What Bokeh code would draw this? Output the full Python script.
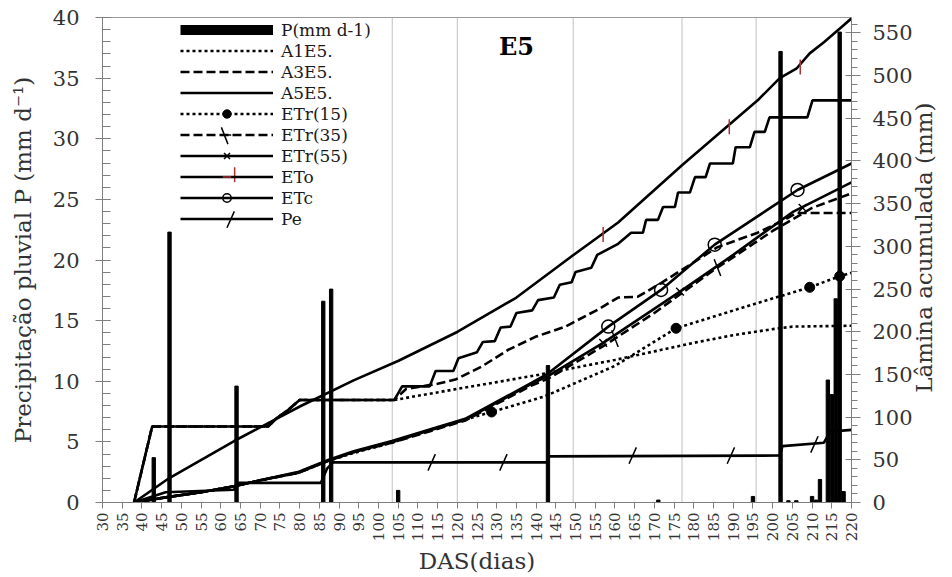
import math
from bokeh.plotting import figure
from bokeh.models import Range1d, LinearAxis, FixedTicker, Legend, LegendItem, Label
from bokeh.embed import file_html
from bokeh.resources import INLINE

# ---------------- data ----------------
DAS_TICKS = list(range(30, 225, 5))
GRID_DAS = [103.5, 120, 149.4, 177, 195.8]

# daily rainfall P (mm d-1), left axis
P_DAS = [43, 47, 64, 86, 88, 105, 143, 171, 195, 202, 204, 206, 210, 211, 212, 214, 215, 216, 217, 218]
P_MM = [3.7, 22.3, 9.6, 16.6, 17.6, 1.0, 11.3, 0.2, 0.5, 37.2, 0.15, 0.15, 0.5, 0.2, 1.9, 10.1, 8.9, 16.8, 38.8, 0.9]

# cumulative depths (mm), right axis
ETO_DAS = [38, 46.4, 63.4, 80.3, 93.7, 105.1, 120.1, 135, 149.2, 160.8, 177, 196.2, 201.8, 206, 209.4, 213,
           215.5, 218, 220]
ETO_MM = [0, 27, 72, 113, 143, 166, 200, 240, 289, 328, 395, 471, 497, 508, 526, 539, 549, 559, 567]
ETO_MK_DAS = [157, 189, 207]
ETO_MK_MM = [314, 440, 510]

A5_DAS = [38, 42.6, 72, 74, 77, 80, 104, 106, 113, 114.5, 119, 120.3, 125, 126.5, 129.5, 131, 133.5, 135, 139, 140.5,
          144.5, 146, 149, 150, 154, 155.5, 160.8, 164.1, 167.1, 167.9, 170.9, 172.2, 175.2, 176, 179, 180.3, 183,
          184.1, 189.9, 190.6, 194.2, 195.4, 198, 199.2, 208.8, 210.1, 220]
A5_MM = [0, 89, 89, 98, 108, 120, 120, 136, 136, 154, 154, 169, 176, 188, 189, 205, 206, 222, 225, 237,
         240, 255, 258, 270, 275, 290, 303, 316, 316, 331, 331, 346, 346, 363, 363, 381, 381,
         397, 397, 416, 416, 434, 434, 451, 451, 471, 471]

A3_DAS = [38, 42.6, 72, 74, 77, 80, 104, 107, 115, 119.5, 126.1, 133, 139.8, 147.4, 155.7, 160.8, 165.8, 171.7,
          186, 196.2, 203, 206, 220]
A3_MM = [0, 89, 89, 98, 108, 120, 120, 133, 139, 144, 159, 179, 194, 206, 226, 240, 241, 257,
         299, 316, 331, 339, 339]

A1_DAS = [38, 42.6, 72, 74, 77, 80, 104, 110, 120, 130, 140, 150, 160, 170, 180, 190, 200, 205, 220]
A1_MM = [0, 89, 89, 98, 108, 120, 120, 125, 133, 141, 149, 158, 167, 177, 187, 196, 203, 206, 207]

ETC_DAS = [38, 46, 55, 63.4, 70, 79.8, 87.4, 93.7, 103.4, 122, 138.8, 143, 158.3, 171.7, 185.3, 206.3, 220]
ETC_MM = [0, 6, 12, 19, 26, 36, 50, 60, 72, 98, 140, 151, 206, 249, 302, 366, 397]
ETC_MK_DAS = [158.3, 171.7, 185.3, 206.3]
ETC_MK_MM = [206, 249, 302, 366]

E55_DAS = [38, 46, 55, 63.4, 70, 79.8, 87.4, 93.7, 103.4, 122, 138.8, 143, 157, 176.5, 190, 205, 220]
E55_MM = [0, 6, 12, 19, 26, 35, 49, 59, 71, 97, 139, 148, 187, 247, 290, 340, 375]
E55_MK_DAS = [157, 176.5, 207.6]
E55_MK_MM = [187, 247, 345]

E35_DAS = [38, 46, 55, 63.4, 70, 79.8, 87.4, 93.7, 103.4, 122, 138.8, 143, 157, 170, 185, 200, 210, 220]
E35_MM = [0, 6, 12, 19, 26, 35, 49, 59, 70, 96, 137, 145, 183, 222, 272, 318, 345, 362]
E35_MK_DAS = [160, 186]
E35_MK_MM = [192, 275]

E15_DAS = [38, 46, 55, 63.4, 70, 79.8, 87.4, 93.7, 103.4, 115, 128.7, 142, 160, 175.5, 195, 209.4, 217, 220]
E15_MM = [0, 6, 12, 19, 26, 35, 49, 58, 70, 88, 106, 124, 160, 204, 232, 252, 265, 269]
E15_MK_DAS = [128.7, 175.5, 209.4, 217]
E15_MK_MM = [106, 204, 252, 265]

PE_DAS = [38, 46, 63.4, 64, 85.4, 87, 88.5, 142.8, 143.2, 201.8, 202.5, 213, 214.6, 220]
PE_MM = [0, 12, 15, 23, 23, 40, 47, 47, 54, 55, 66, 70, 83, 85]
PE_MK_DAS = [113.5, 131.7, 164.5, 189.4, 210.6]
PE_MK_MM = [47, 47, 55, 55, 68]

# ---------------- figure ----------------
SERIF = "DejaVu Serif"
TXT = "#333333"
AX = "#7f7f7f"
FW, FH = 751, 486   # frame size in pixels

p = figure(width=952, height=577, output_backend="svg", toolbar_location=None,
           x_range=Range1d(30, 220), y_range=Range1d(0, 40),
           min_border_left=102, min_border_right=99, min_border_top=17, min_border_bottom=74)
p.extra_y_ranges = {"lam": Range1d(0, 568), "px": Range1d(0, FH)}
p.extra_x_ranges = {"px": Range1d(0, FW)}
p.xgrid.grid_line_color = None
p.ygrid.grid_line_color = None
p.outline_line_color = "#9a9a9a"
p.background_fill_color = "white"
p.border_fill_color = "white"

# vertical reference lines
p.segment(x0=GRID_DAS, x1=GRID_DAS, y0=[0] * len(GRID_DAS), y1=[40] * len(GRID_DAS),
          line_color="#c0c0c0", line_width=1)

# x axis
xa = p.xaxis[0]
xa.ticker = FixedTicker(ticks=DAS_TICKS)
xa.major_label_orientation = math.pi / 2
xa.axis_label = "DAS(dias)"

# left axis
ya = p.yaxis[0]
ya.ticker = FixedTicker(ticks=list(range(0, 45, 5)), minor_ticks=list(range(0, 41)))
ya.axis_label = "Precipitação pluvial P (mm d⁻¹)"

# right axis (title reads bottom-to-top as in the reference; anchored at the axis start
# and pushed up with no-break spaces so it sits where the reference has it)
ra = LinearAxis(y_range_name="lam", ticker=FixedTicker(ticks=list(range(0, 600, 50)),
                                                        minor_ticks=list(range(0, 570, 10))))
props = ra.properties()
if "axis_label_orientation" in props and "axis_label_align" in props:
    ra.axis_label = "\u00a0" * 15 + "Lâmina acumulada (mm)"
    ra.axis_label_orientation = math.pi / 2
    ra.axis_label_align = "start"
else:
    ra.axis_label = "Lâmina acumulada (mm)"
p.add_layout(ra, "right")

for ax in [xa, ya, ra]:
    ax.axis_line_color = AX
    ax.major_tick_line_color = AX
    ax.minor_tick_line_color = AX
    ax.major_label_text_font = SERIF
    ax.major_label_text_color = TXT
    ax.axis_label_text_font = SERIF
    ax.axis_label_text_color = TXT
    ax.axis_label_text_font_style = "normal"
    ax.axis_label_text_font_size = "23px"

xa.major_label_text_font_size = "15px"
xa.major_tick_in = 0
xa.major_tick_out = 6
xa.minor_tick_line_color = None
xa.major_label_standoff = 4
xa.axis_label_standoff = 4

ya.major_label_text_font_size = "21px"
ya.major_tick_in = 8
ya.major_tick_out = 7
ya.minor_tick_in = 8
ya.minor_tick_out = 0
ya.major_label_standoff = 16
ya.axis_label_standoff = 14

ra.major_label_text_font_size = "21px"
ra.major_tick_in = 6
ra.major_tick_out = 9
ra.minor_tick_in = 0
ra.minor_tick_out = 6
ra.major_label_standoff = 12
ra.axis_label_standoff = 8

# rainfall bars
bars = p.vbar(x=P_DAS, top=P_MM, width=0.85, color="black")
p_leg = p.line(x=[float("nan")], y=[float("nan")], line_width=10, line_color="black")

LW = 2.6
a1 = p.line(A1_DAS, A1_MM, y_range_name="lam", line_color="black", line_width=LW, line_dash="3 3")
a3 = p.line(A3_DAS, A3_MM, y_range_name="lam", line_color="black", line_width=LW, line_dash="9 4")
a5 = p.line(A5_DAS, A5_MM, y_range_name="lam", line_color="black", line_width=LW)

e15 = p.line(E15_DAS, E15_MM, y_range_name="lam", line_color="black", line_width=LW, line_dash="3 3")
e15m = p.scatter(E15_MK_DAS, E15_MK_MM, y_range_name="lam", marker="circle", size=10, color="black")
e35 = p.line(E35_DAS, E35_MM, y_range_name="lam", line_color="black", line_width=LW, line_dash="9 4")
e35m = p.scatter(E35_MK_DAS, E35_MK_MM, y_range_name="lam", marker="dash", angle=-1.2, size=18,
                 line_color="black", line_width=1.5)
e55 = p.line(E55_DAS, E55_MM, y_range_name="lam", line_color="black", line_width=LW)
e55m = p.scatter(E55_MK_DAS, E55_MK_MM, y_range_name="lam", marker="x", size=11,
                 line_color="black", line_width=1.5)
eto = p.line(ETO_DAS, ETO_MM, y_range_name="lam", line_color="black", line_width=LW)
etom = p.scatter(ETO_MK_DAS, ETO_MK_MM, y_range_name="lam", marker="dash", angle=math.pi / 2, size=15,
                 line_color="#b03030", line_width=1.5)
etc = p.line(ETC_DAS, ETC_MM, y_range_name="lam", line_color="black", line_width=LW)
etcm = p.scatter(ETC_MK_DAS, ETC_MK_MM, y_range_name="lam", marker="circle", size=13,
                 line_color="black", fill_color=None, line_width=1.5)
pe = p.line(PE_DAS, PE_MM, y_range_name="lam", line_color="black", line_width=LW)
pem = p.scatter(PE_MK_DAS, PE_MK_MM, y_range_name="lam", marker="dash", angle=1.15, size=18,
                line_color="black", line_width=1.5)

LEG_X, LEG_Y, ROW, GW = 78, 273, 21, 93
legend = Legend(items=[
    LegendItem(label="P(mm d-1)", renderers=[p_leg]),
    LegendItem(label="A1E5.", renderers=[a1]),
    LegendItem(label="A3E5.", renderers=[a3]),
    LegendItem(label="A5E5.", renderers=[a5]),
    LegendItem(label="ETr(15)", renderers=[e15, e15m]),
    LegendItem(label="ETr(35)", renderers=[e35, e35m]),
    LegendItem(label="ETr(55)", renderers=[e55, e55m]),
    LegendItem(label="ETo", renderers=[eto, etom]),
    LegendItem(label="ETc", renderers=[etc, etcm]),
    LegendItem(label="Pe", renderers=[pe, pem]),
], location=(LEG_X, LEG_Y))
legend.glyph_width = GW
legend.glyph_height = ROW
legend.label_height = ROW
legend.spacing = 0
legend.padding = 0
legend.margin = 0
legend.label_standoff = 8
legend.label_text_font = SERIF
legend.label_text_font_size = "17px"
legend.label_text_color = "#1a1a1a"
legend.background_fill_alpha = 0
legend.border_line_alpha = 0
p.add_layout(legend)

# rotated legend markers (Bokeh legends draw markers unrotated), placed on the legend rows
leg_top = LEG_Y + 10 * ROW
leg_cx = LEG_X + GW / 2
def row_y(i):
    return leg_top - ROW / 2 - ROW * i
p.scatter([leg_cx - 2], [row_y(5)], x_range_name="px", y_range_name="px", marker="dash",
          angle=-1.2, size=18, line_color="black", line_width=1.5)
p.scatter([leg_cx + 8], [row_y(7) + 3], x_range_name="px", y_range_name="px", marker="dash",
          angle=math.pi / 2, size=15, line_color="#b03030", line_width=1.5)
p.scatter([leg_cx + 4], [row_y(9)], x_range_name="px", y_range_name="px", marker="dash",
          angle=1.15, size=18, line_color="black", line_width=1.5)

title = Label(x=414, y=456, x_units="screen", y_units="screen", text="E5",
              text_align="center", text_baseline="middle",
              text_font=SERIF, text_font_size="24px", text_font_style="bold", text_color="black")
p.add_layout(title)

open("out.html", "w").write(file_html(p, INLINE))
